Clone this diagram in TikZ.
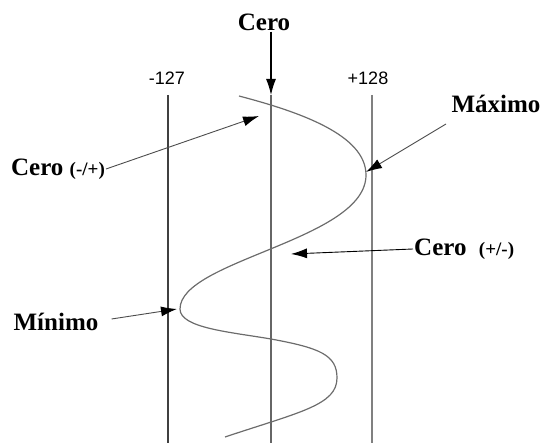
\documentclass[tikz,border=0pt]{standalone}
\usepackage{fontspec}
\setmainfont{Liberation Serif}
\setsansfont{Liberation Sans}
\usetikzlibrary{arrows.meta}

\newcommand{\signtxt}[1]{{\fontsize{19}{20}\selectfont #1}}

\tikzset{
  lbl/.style={font=\bfseries\fontsize{25}{27}\selectfont, inner sep=1pt},
  lvl/.style={font=\sffamily\fontsize{18}{19}\selectfont, inner sep=1pt},
  pointer/.style={-{Latex[length=16pt,width=10pt,color=black]}, line width=0.9pt, gray!60!black},
  rail/.style={line width=1.1pt, gray!80!black}
}

\begin{document}
\begin{tikzpicture}[x=1pt, y=-1pt]

  \useasboundingbox (0,0) rectangle (542,443);

  % Levels
  \node[lvl] (neg) at (167,78) {-127};
  \node[lvl] (pos) at (368,78) {+128};
  \draw[rail, line width=1.4pt, black!75] (168,95) -- (168,443);
  \draw[rail] (271,95) -- (271,443);
  \draw[rail, gray] (372,95) -- (372,443);

  % Signal (grey)
  \draw[line width=1.2pt, gray!85!black]
    (239,96) .. controls (300,112) and (366,135) .. (366,175)
    .. controls (366,240) and (180,260) .. (180,309)
    .. controls (180,328) and (230,332) .. (271,339)
    .. controls (320,348) and (337,355) .. (337,378)
    .. controls (337,405) and (300,412) .. (225,437);

  % Points on the signal
  \coordinate (zup) at (259,116);
  \coordinate (top) at (366,172);
  \coordinate (zdn) at (291,254);
  \coordinate (bot) at (177,309);
  \coordinate (mid) at (271,95);

  % Labels
  \node[lbl] (cero) at (264,22) {Cero};
  \node[lbl, anchor=west] (ceroA) at (10,169) {Cero\ \signtxt{(-/+)}};
  \node[lbl] (maximo) at (496,104) {Máximo};
  \node[lbl, anchor=west] (ceroB) at (413,249) {Cero\ \ \signtxt{(+/-)}};
  \node[lbl] (minimo) at (56,322) {Mínimo};

  % Pointers
  \draw[pointer, black, line width=1.2pt] (cero.south -| mid) -- (mid);
  \draw[pointer] (ceroA.east) -- (zup);
  \draw[pointer] (446,124) -- (top);
  \draw[pointer, black] (ceroB.west) -- (zdn);
  \draw[pointer] ([xshift=12pt,yshift=3pt]minimo.east) -- (bot);

\end{tikzpicture}
\end{document}
